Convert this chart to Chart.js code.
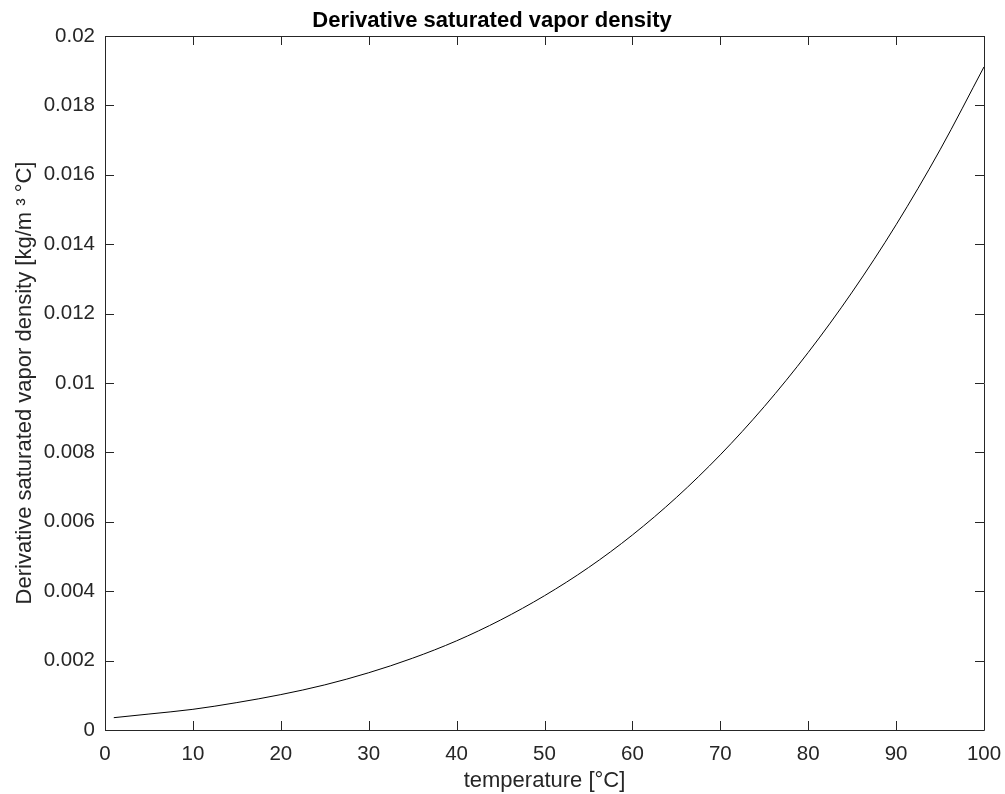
<!DOCTYPE html>
<html>
<head>
<meta charset="utf-8">
<title>Derivative saturated vapor density</title>
<script src="https://cdn.jsdelivr.net/npm/chart.js@4.4.1/dist/chart.umd.min.js"></script>
<style>
  html, body { margin: 0; padding: 0; background: #ffffff; }
  #wrap { width: 1005px; height: 794px; position: relative; }
</style>
</head>
<body>
<div id="wrap"><canvas id="chart"></canvas></div>
<script>
// temperature in °C and the derivative
const temperature = [1, 5, 10, 15, 20, 25, 30, 35, 40, 45, 50, 55, 60, 65, 70, 75, 80, 85, 90, 95, 100];
const dRhoDT = [0.000355, 0.00046, 0.000596, 0.00079, 0.00102, 0.0013, 0.00165, 0.00207, 0.00257, 0.00317,
                0.00387, 0.00468, 0.00562, 0.0067, 0.00793, 0.00932, 0.01088, 0.01262, 0.01456, 0.01672, 0.01911];
const xTicks = [0, 10, 20, 30, 40, 50, 60, 70, 80, 90, 100];
const yTicks = [0, 0.002, 0.004, 0.006, 0.008, 0.01, 0.012, 0.014, 0.016, 0.018, 0.02];

const axisColor = '#262626';
const fontFamily = '"Liberation Sans", Arial, Helvetica, sans-serif';

// box around the plot with inward tick marks on all four sides
const boxPlugin = {
    id: 'boxPlugin',
    afterDraw(chart) {
        const ctx = chart.ctx;
        const area = chart.chartArea;
        const xs = chart.scales.x;
        const ys = chart.scales.y;
        const len = 9;
        ctx.save();
        ctx.strokeStyle = axisColor;
        ctx.lineWidth = 1;
        ctx.beginPath();
        ctx.rect(Math.round(area.left) + 0.5, Math.round(area.top) + 0.5,
                 Math.round(area.right - area.left), Math.round(area.bottom - area.top));
        xTicks.forEach(v => {
            const px = Math.round(xs.getPixelForValue(v)) + 0.5;
            ctx.moveTo(px, area.bottom);
            ctx.lineTo(px, area.bottom - len);
            ctx.moveTo(px, area.top);
            ctx.lineTo(px, area.top + len);
        });
        yTicks.forEach(v => {
            const py = Math.round(ys.getPixelForValue(v)) + 0.5;
            ctx.moveTo(area.left, py);
            ctx.lineTo(area.left + len, py);
            ctx.moveTo(area.right, py);
            ctx.lineTo(area.right - len, py);
        });
        ctx.stroke();
        ctx.restore();
    }
};

new Chart(document.getElementById('chart'), {
    type: 'line',
    data: {
        datasets: [{
            data: temperature.map((t, i) => ({ x: t, y: dRhoDT[i] })),
            borderColor: '#000000',
            borderWidth: 1,
            pointRadius: 0,
            fill: false,
            cubicInterpolationMode: 'monotone'
        }]
    },
    options: {
        responsive: true,
        maintainAspectRatio: false,
        animation: false,
        layout: { padding: { left: 0, right: 21, top: 0, bottom: 0 } },
        plugins: {
            legend: { display: false },
            tooltip: { enabled: false },
            title: {
                display: true,
                text: 'Derivative saturated vapor density',
                color: '#000000',
                font: { family: fontFamily, size: 22, weight: 'bold', lineHeight: 1.2 },
                padding: { top: 8, bottom: 1.6 }
            }
        },
        scales: {
            x: {
                type: 'linear',
                min: 0,
                max: 100,
                afterFit: scale => {
                    scale.height = 64;
                    scale.paddingLeft = 0;
                    scale.paddingRight = 0;
                },
                afterBuildTicks: scale => { scale.ticks = xTicks.map(v => ({ value: v })); },
                grid: { display: false, drawTicks: false },
                border: { display: false },
                ticks: {
                    color: axisColor,
                    padding: 12,
                    maxRotation: 0,
                    font: { family: fontFamily, size: 20.5 },
                    callback: v => String(v)
                },
                title: {
                    display: true,
                    text: 'temperature [°C]',
                    color: axisColor,
                    font: { family: fontFamily, size: 22, lineHeight: 1.2 },
                    padding: { top: 0, bottom: 0 }
                }
            },
            y: {
                type: 'linear',
                min: 0,
                max: 0.02,
                afterFit: scale => { scale.width = 105; },
                afterBuildTicks: scale => { scale.ticks = yTicks.map(v => ({ value: v })); },
                grid: { display: false, drawTicks: false },
                border: { display: false },
                ticks: {
                    color: axisColor,
                    padding: 10,
                    font: { family: fontFamily, size: 20.5 },
                    callback: v => String(parseFloat(Number(v).toFixed(4)))
                },
                title: {
                    display: true,
                    text: 'Derivative saturated vapor density [kg/m ³ °C]',
                    color: axisColor,
                    font: { family: fontFamily, size: 22, lineHeight: 1.2 },
                    padding: { top: 12, bottom: 0 }
                }
            }
        }
    },
    plugins: [boxPlugin]
});
</script>
</body>
</html>
